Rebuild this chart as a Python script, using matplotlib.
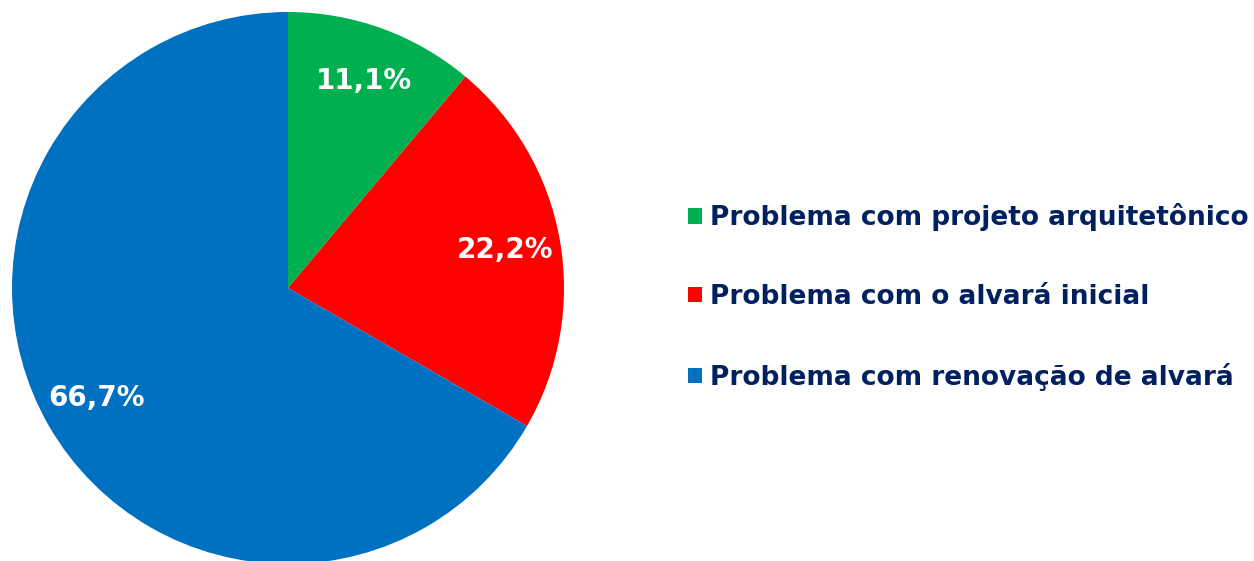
import matplotlib.pyplot as plt

categories = ['Problema com projeto arquitetônico',
              'Problema com o alvará inicial',
              'Problema com renovação de alvará']
values = [1, 2, 6]
colors = ['#00B050', '#FF0000', '#0070C0']
text_color = '#002060'

plt.rcParams['font.family'] = ['DejaVu Sans']

fig = plt.figure(figsize=(12.54, 5.61), dpi=100)
W, H = 1254, 561
# pie centre (288, 288) px, radius 276 px
ax = fig.add_axes([12 / W, (H - 288 - 276) / H, 552 / W, 552 / H])


def fmt(p):
    return ('%.1f%%' % p).replace('.', ',')


wedges, texts, autotexts = ax.pie(values, colors=colors, startangle=90,
                                  counterclock=False, autopct=fmt,
                                  pctdistance=0.8, radius=1,
                                  textprops=dict(color='white', fontsize=20,
                                                 fontweight='bold'))
for w in wedges:
    w.set_clip_on(False)
ax.set_xlim(-1, 1)
ax.set_ylim(-1, 1)
ax.set_aspect('equal')

leg = fig.legend(wedges, categories, loc='center left',
                 bbox_to_anchor=(688 / W, (H - 297) / H),
                 frameon=False, handlelength=0.53, handleheight=0.53,
                 handletextpad=0.3, labelspacing=2.0, borderpad=0,
                 borderaxespad=0,
                 prop=dict(size=19, weight='bold'))
for t in leg.get_texts():
    t.set_color(text_color)

fig.savefig('out.png', dpi=100)
